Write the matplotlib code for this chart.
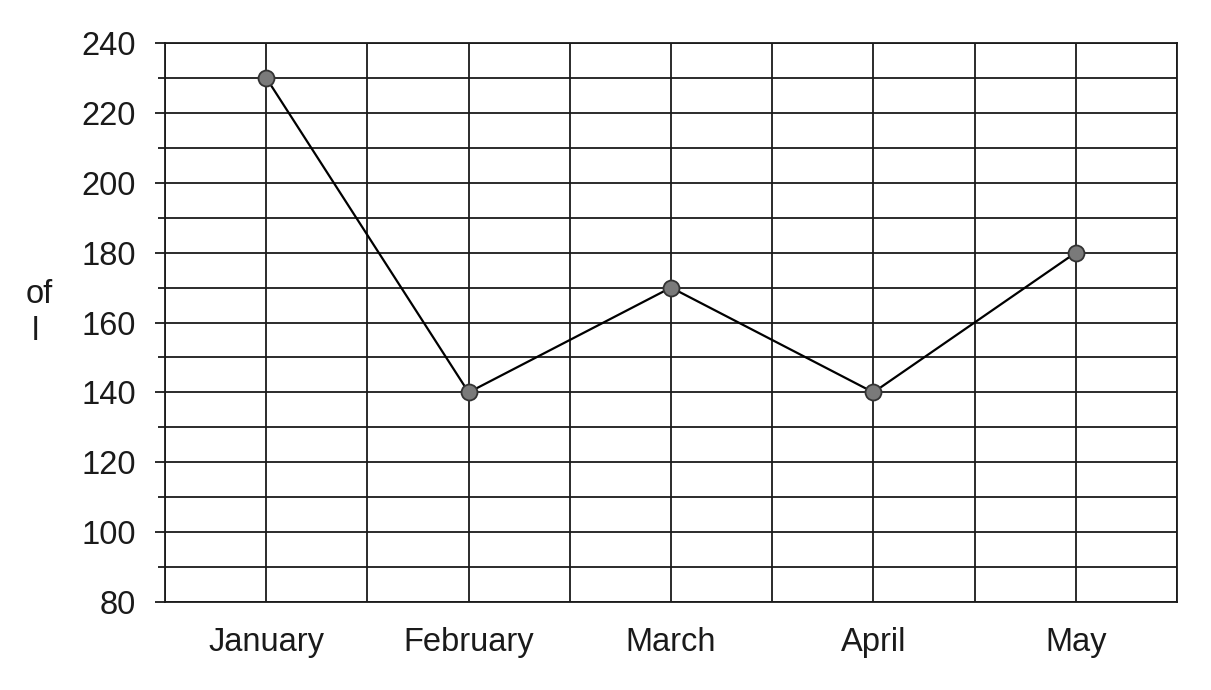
import matplotlib
matplotlib.use("Agg")
import matplotlib.pyplot as plt
import numpy as np
from matplotlib.ticker import MultipleLocator

# dati
months = ["January", "February", "March", "April", "May"]
values = [230, 140, 170, 140, 180]

plt.rcParams['font.family'] = ['Liberation Sans', 'DejaVu Sans']

fig = plt.figure(figsize=(12.11, 6.9), dpi=100)
ax = fig.add_axes([0.1363, 0.1275, 0.8356, 0.8102])

x = np.arange(len(months))
ax.plot(x, values, color='black', linewidth=1.6, marker='o', markersize=11.5,
        markerfacecolor='#7a7a7a', markeredgecolor='#333333', markeredgewidth=1.3, zorder=3)

ax.set_xlim(-0.5, len(months) - 0.5)
ax.set_ylim(80, 240)
ax.set_xticks(x)
ax.set_xticklabels(months)
ax.set_xticks(np.arange(-0.5, len(months), 1.0), minor=True)
ax.yaxis.set_major_locator(MultipleLocator(20))
ax.yaxis.set_minor_locator(MultipleLocator(10))

# griglia
ax.grid(True, which='both', color='#1a1a1a', linewidth=1.3)
ax.set_axisbelow(True)

ax.tick_params(axis='x', which='both', length=0, pad=18, labelsize=23.5, labelcolor='#1a1a1a')
ax.tick_params(axis='y', which='major', length=7, width=1.3, pad=14, labelsize=23.5,
               color='#1a1a1a', labelcolor='#1a1a1a')
ax.tick_params(axis='y', which='minor', length=5, width=1.3, color='#1a1a1a')

for s in ax.spines.values():
    s.set_color('#1a1a1a')
    s.set_linewidth(1.3)

# etichetta asse y troncata come nell'originale
fig.text(0.032, 0.573, "of", fontsize=23.5, ha='center', va='center', color='#1a1a1a')
fig.text(0.029, 0.52, "l", fontsize=23.5, ha='center', va='center', color='#1a1a1a')

plt.savefig("out.png", dpi=100)
